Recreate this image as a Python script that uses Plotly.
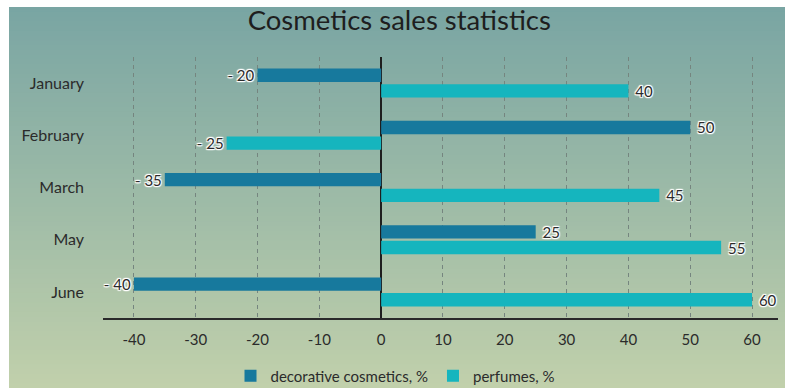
import plotly.graph_objects as go

# Data
months = ["January", "February", "March", "May", "June"]
decorative = [-20, 50, -35, 25, -40]
perfumes = [40, -25, 45, 55, 60]
series_names = ["decorative cosmetics, %", "perfumes, %"]
x_ticks = [-40, -30, -20, -10, 0, 10, 20, 30, 40, 50, 60]
x_tick_labels = ["-40", "-30", "-20", "-10", "0", "10", "20", "30", "40", "50", "60"]

DECO_COLOR = "#17799d"
PERF_COLOR = "#15b5be"
TEXT_COLOR = "#2b2b2b"
FONT = "Lato"
HALO = ("1px 1px 1px white, -1px -1px 1px white, 1px -1px 1px white, "
        "-1px 1px 1px white, 0 1px 1px white, 0 -1px 1px white")


def fmt(v):
    return f"- {abs(v)}" if v < 0 else f" {v}"


fig = go.Figure()
for name, vals, col in [(series_names[0], decorative, DECO_COLOR),
                        (series_names[1], perfumes, PERF_COLOR)]:
    fig.add_trace(go.Bar(
        y=months, x=vals, name=name, orientation="h",
        marker=dict(color=col, line=dict(width=0)),
        text=[fmt(v) for v in vals], textposition="outside",
        constraintext="none",
        textfont=dict(family=FONT, size=15, color=TEXT_COLOR, shadow=HALO),
        cliponaxis=False,
    ))

# vertical background gradient drawn as thin stripes behind everything
L, R, T, B = 103, 8, 57, 70
W, H = 786, 388
pw, ph = W - L - R, H - T - B
top_rgb = (121, 165, 163)
bot_rgb = (193, 208, 171)
px_left, px_right, px_top, px_bot = 9, 785, 7, 388
n = 80
shapes = []
for i in range(n):
    y0p = px_top + (px_bot - px_top) * i / n
    y1p = min(px_bot, px_top + (px_bot - px_top) * (i + 1) / n + 1.5)
    t = (i + 0.5) / n
    c = tuple(round(a + (b - a) * t) for a, b in zip(top_rgb, bot_rgb))
    shapes.append(dict(
        type="rect", xref="paper", yref="paper", layer="below",
        x0=(px_left - L) / pw, x1=(px_right - L) / pw,
        y0=(T + ph - y1p) / ph, y1=(T + ph - y0p) / ph,
        fillcolor=f"rgb{c}", line=dict(width=0),
    ))

fig.update_layout(
    width=W, height=H,
    margin=dict(l=L, r=R, t=T, b=B, autoexpand=False),
    paper_bgcolor="white",
    plot_bgcolor="rgba(0,0,0,0)",
    shapes=shapes,
    barmode="group", bargap=0.40, bargroupgap=0.15,
    title=dict(text="Cosmetics sales statistics", x=0.508, xanchor="center",
               y=0.948, yanchor="middle",
               font=dict(family=FONT, size=27.5, color="#1e1e1e")),
    font=dict(family=FONT, size=15, color=TEXT_COLOR),
    showlegend=True,
    legend=dict(orientation="h", x=0.4326, xanchor="center",
                yref="container", y=1 - 376 / 388, yanchor="middle",
                font=dict(family=FONT, size=15, color=TEXT_COLOR),
                bgcolor="rgba(0,0,0,0)", itemwidth=30),
    xaxis=dict(range=[-45, 64.2], tickvals=x_ticks, ticktext=x_tick_labels,
               showgrid=True, gridcolor="#75857f", griddash="4px,4px", gridwidth=1,
               zeroline=True, zerolinecolor="#1e1e1e", zerolinewidth=1.5,
               showline=True, linecolor="#2a2a2a", linewidth=1.5,
               ticks="", ticklabelstandoff=7,
               tickfont=dict(family=FONT, size=15, color=TEXT_COLOR)),
    yaxis=dict(autorange="reversed", showgrid=False, zeroline=False,
               showline=False, ticks="", ticklabelstandoff=18,
               tickfont=dict(family=FONT, size=16, color=TEXT_COLOR)),
)

fig.write_html("out.html")
